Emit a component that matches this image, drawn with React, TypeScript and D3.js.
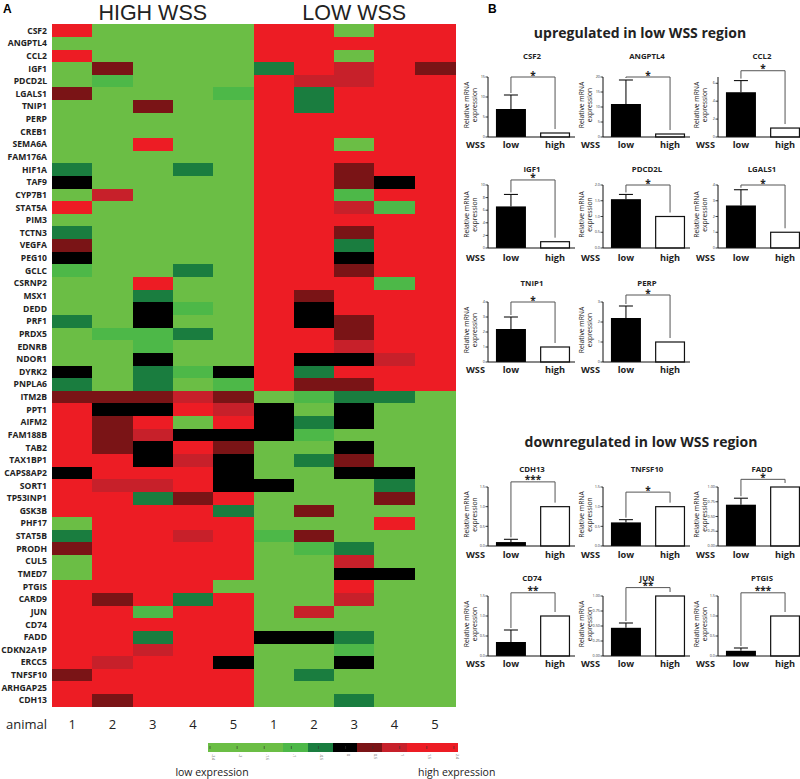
import React from 'react';
import * as d3 from 'd3';

// ---------------- Heatmap data ----------------
const genes = [
  'CSF2', 'ANGPTL4', 'CCL2', 'IGF1', 'PDCD2L', 'LGALS1', 'TNIP1', 'PERP', 'CREB1', 'SEMA6A',
  'FAM176A', 'HIF1A', 'TAF9', 'CYP7B1', 'STAT5A', 'PIM3', 'TCTN3', 'VEGFA', 'PEG10', 'GCLC',
  'CSRNP2', 'MSX1', 'DEDD', 'PRF1', 'PRDX5', 'EDNRB', 'NDOR1', 'DYRK2', 'PNPLA6',
  'ITM2B', 'PPT1', 'AIFM2', 'FAM188B', 'TAB2', 'TAX1BP1', 'CAPS8AP2', 'SORT1', 'TP53INP1', 'GSK3B',
  'PHF17', 'STAT5B', 'PRODH', 'CUL5', 'TMED7', 'PTGIS', 'CARD9', 'JUN', 'CD74', 'FADD',
  'CDKN2A1P', 'ERCC5', 'TNFSF10', 'ARHGAP25', 'CDH13',
];
const animals = ['1', '2', '3', '4', '5', '1', '2', '3', '4', '5'];
const groups = ['HIGH WSS', 'LOW WSS'];

// columns: HIGH WSS animals 1-5, LOW WSS animals 1-5
const expression: number[][] = [
  [2, -2, -2, -2, -2, 2, 2, -2, 2, 2], // CSF2
  [-2, -2, -2, -2, -2, 2, 2, 2, 2, 2], // ANGPTL4
  [2, -2, -2, -2, -2, 2, 2, -2, 2, 2], // CCL2
  [-2, 0.4, -2, -2, -2, -0.4, 2, 1, 2, 0.4], // IGF1
  [-2, -1, -2, -2, -2, 2, 1, 1, 2, 2], // PDCD2L
  [0.4, -2, -2, -2, -1, 2, -0.4, 2, 2, 2], // LGALS1
  [-2, -2, 0.4, -2, -2, 2, -0.4, 2, 2, 2], // TNIP1
  [-2, -2, -2, -2, -2, 2, 2, 2, 2, 2], // PERP
  [-2, -2, -2, -2, -2, 2, 2, 2, 2, 2], // CREB1
  [-2, -2, 2, -2, -2, 2, 2, -2, 2, 2], // SEMA6A
  [-2, -2, -2, -2, -2, 2, 2, 2, 2, 2], // FAM176A
  [-0.4, -2, -2, -0.4, -2, 2, 2, 0.4, 2, 2], // HIF1A
  [0, -2, -2, -2, -2, 2, 2, 0.4, 0, 2], // TAF9
  [-2, 1, -2, -2, -2, 2, 2, -1, 2, 2], // CYP7B1
  [2, -2, -2, -2, -2, 2, 2, 1, -1, 2], // STAT5A
  [-2, -2, -2, -2, -2, 2, 2, 2, 2, 2], // PIM3
  [-0.4, -2, -2, -2, -2, 2, 2, 0.4, 2, 2], // TCTN3
  [0.4, -2, -2, -2, -2, 2, 2, -0.4, 2, 2], // VEGFA
  [0, -2, -2, -2, -2, 2, 2, 0, 2, 2], // PEG10
  [-1, -2, -2, -0.4, -2, 2, 2, 0.4, 2, 2], // GCLC
  [-2, -2, 2, -2, -2, 2, 2, 2, -1, 2], // CSRNP2
  [-2, -2, -0.4, -2, -2, 2, 0.4, 2, 2, 2], // MSX1
  [-2, -2, 0, -1, -2, 2, 0, 2, 2, 2], // DEDD
  [-0.4, -2, 0, -2, -2, 2, 0, 0.4, 2, 2], // PRF1
  [-2, -1, -1, -0.4, -2, 2, 2, 0.4, 2, 2], // PRDX5
  [-2, -2, -1, -2, -2, 2, 2, 1, 2, 2], // EDNRB
  [-2, -2, 0, -2, -2, 2, 0, 0, 1, 2], // NDOR1
  [0, -2, -0.4, -1, 0, 2, -0.4, 2, 2, 2], // DYRK2
  [-0.4, -2, -0.4, -2, -1, 2, 0.4, 0.4, 2, 2], // PNPLA6
  [0.4, 0.4, 0.4, 1, 0.4, -2, -1, -0.4, -0.4, -2], // ITM2B
  [2, 0, 0, 2, 1, 0, -2, 0, -2, -2], // PPT1
  [2, 0.4, 2, -2, 2, 0, -0.4, 0, -2, -2], // AIFM2
  [2, 0.4, 1, 0, 0, 0, -1, -2, -2, -2], // FAM188B
  [2, 0.4, 0, 2, 0.4, -2, -2, 0, -2, -2], // TAB2
  [2, 2, 0, 1, 0, -2, -0.4, 0.4, -2, -2], // TAX1BP1
  [0, 2, 2, 2, 0, -2, -2, 0, 0, -2], // CAPS8AP2
  [2, 1, 1, 2, 0, 0, -2, -2, -0.4, -2], // SORT1
  [2, 2, -0.4, 0.4, 2, -2, -2, -2, 0.4, -2], // TP53INP1
  [2, 2, 2, 2, -0.4, -2, 0.4, -2, -2, -2], // GSK3B
  [-2, 2, 2, 2, 2, -2, -2, -2, 2, -2], // PHF17
  [-0.4, 2, 2, 1, 2, -1, 0.4, -2, -2, -2], // STAT5B
  [0.4, 2, 2, 2, 2, -2, -1, -0.4, -2, -2], // PRODH
  [-2, 2, 2, 2, 2, -2, -2, 1, -2, -2], // CUL5
  [-2, 2, 2, 2, 2, -2, -2, 0, 0, -2], // TMED7
  [2, 2, 2, 2, -2, -2, -2, 2, -2, -2], // PTGIS
  [2, 0.4, 2, -0.4, 2, -2, -2, 1, -2, -2], // CARD9
  [2, 2, -1, 2, 2, -2, 1, -2, -2, -2], // JUN
  [2, 2, 2, 2, 2, -2, -2, -2, -2, -2], // CD74
  [2, 2, -0.4, 2, 2, 0, 0, -0.4, -2, -2], // FADD
  [2, 2, 1, 2, 2, -2, -2, -1, -2, -2], // CDKN2A1P
  [2, 1, 2, 2, 0, -2, -2, 0, -2, -2], // ERCC5
  [0.4, 2, 2, 2, 2, -2, -0.4, -2, -2, -2], // TNFSF10
  [2, 2, 2, 2, 2, -2, -2, -2, -2, -2], // ARHGAP25
  [2, 0.4, 2, 2, 2, -2, -2, -0.4, -2, -2], // CDH13
];

const legendValues = [-2.4, -2, -1.6, -1, -0.4, 0, 0.4, 1, 1.6, 2.4];
const legendTickLabels = ['-2.4', '-2', '-1.6', '-1', '-0.5', '0', '0.5', '1', '1.5', '2.4'];

// ---------------- Bar chart data ----------------
const barGenes = ['CSF2', 'ANGPTL4', 'CCL2', 'IGF1', 'PDCD2L', 'LGALS1', 'TNIP1', 'PERP',
  'CDH13', 'TNFSF10', 'FADD', 'CD74', 'JUN', 'PTGIS'];
const barCategories = ['low', 'high'];
const lowMean = [7, 11, 5, 6.6, 1.55, 2.7, 2.2, 2.2, 0.1, 0.6, 0.7, 0.35, 0.47, 0.13];
const lowUpper = [10.5, 19, 6.3, 8.5, 1.7, 3.7, 3.0, 2.8, 0.17, 0.67, 0.81, 0.65, 0.55, 0.2];
const highMean = [1, 1, 1, 1, 1, 1, 1, 1, 1, 1, 1, 1, 1, 1];
const axisMax = [15, 20, 6.7, 10, 2, 4, 4, 3, 1.5, 1.5, 1, 1.5, 1, 1.5];
const tickStep = [5, 5, 2, 2, 0.5, 1, 1, 1, 0.5, 0.5, 0.25, 0.5, 0.25, 0.5];
const tickDecimals = [0, 0, 0, 0, 1, 0, 0, 0, 1, 1, 2, 1, 2, 1];
const significance = ['*', '*', '*', '*', '*', '*', '*', '*', '***', '*', '*', '**', '**', '***'];
const bracketLevel = [15, 20, 7.4, 10.8, 2, 4, 4, 3.35, 1.63, 1.37, 1.13, 1.58, 1.14, 1.58];
const sectionTitles = ['upregulated in low WSS region', 'downregulated in low WSS region'];

// ---------------- Styling ----------------
const FONT = "'Open Sans', 'Liberation Sans', sans-serif";
const C = {
  G: '#6BBE45', g: '#4DB848', D: '#1A7D3F', K: '#000000', M: '#7A1416', r: '#C7202A', R: '#ED1C24',
};
const colorScale = d3.scaleThreshold<number, string>()
  .domain([-1.5, -0.7, -0.2, 0.2, 0.7, 1.5])
  .range([C.G, C.g, C.D, C.K, C.M, C.r, C.R]);

const HM = { left: 52, right: 455, top: 24.3, bottom: 706.7 };

function Heatmap() {
  const x = d3.scaleBand<number>().domain(d3.range(animals.length)).range([HM.left, HM.right]);
  const y = d3.scaleBand<string>().domain(genes).range([HM.top, HM.bottom]);
  return (
    <g>
      <text x={3} y={13} fontFamily="'Liberation Sans', Arial, sans-serif" fontWeight="bold" fontSize={12}>A</text>
      {groups.map((gname, i) => (
        <text key={gname} x={(x(i * 5)! + x(i * 5 + 4)! + x.bandwidth()) / 2} y={19.5}
          textAnchor="middle" fontFamily="'Liberation Sans', Arial, sans-serif" fontSize={21.5} fill="#222">{gname}</text>
      ))}
      <g shapeRendering="crispEdges">
        {expression.map((row, ri) => row.map((v, ci) => (
          <rect key={`${ri}-${ci}`} x={x(ci)} y={y(genes[ri])}
            width={x.bandwidth() + 0.6} height={y.bandwidth() + 0.6} fill={colorScale(v)} />
        )))}
      </g>
      {genes.map(gn => (
        <text key={gn} x={47} y={y(gn)! + y.bandwidth() / 2 + 3} textAnchor="end"
          fontFamily={FONT} fontWeight="bold" fontSize={8.6} fill="#222">{gn}</text>
      ))}
      <text x={6} y={729} fontFamily={FONT} fontSize={13} fill="#222">animal</text>
      {animals.map((a, i) => (
        <text key={i} x={x(i)! + x.bandwidth() / 2} y={729} textAnchor="middle"
          fontFamily={FONT} fontSize={13} fill="#222">{a}</text>
      ))}
    </g>
  );
}

function Legend() {
  const x0 = 208, x1 = 457, y0 = 743, h = 9;
  const seg = d3.scaleBand<number>().domain(d3.range(legendValues.length)).range([x0, x1]);
  const tk = d3.scalePoint<string>().domain(legendTickLabels).range([x0 + 2, x1 - 3]);
  return (
    <g>
      <g shapeRendering="crispEdges">
        {legendValues.map((v, i) => (
          <rect key={i} x={seg(i)} y={y0} width={seg.bandwidth() + 0.5} height={h} fill={colorScale(v)} />
        ))}
      </g>
      {legendTickLabels.map(t => (
        <g key={t}>
          <line x1={tk(t)} x2={tk(t)} y1={y0 + 3} y2={y0 + 6} stroke="#333" strokeWidth={0.6} />
          <text transform={`translate(${tk(t)! + 1.5},${y0 + h + 2}) rotate(90)`} fontFamily={FONT}
            fontSize={3.5} fill="#555">{t}</text>
        </g>
      ))}
      <text x={212} y={776} textAnchor="middle" fontFamily={FONT} fontSize={10.5} fill="#222">low expression</text>
      <text x={418} y={776} fontFamily={FONT} fontSize={10.5} fill="#222">high expression</text>
    </g>
  );
}

const colX = [488, 603, 718];
const rowTop = [77, 185, 302, 487, 596];
const rowBottom = [137, 248, 362, 546, 656];
const rowTitleY = [59, 172, 286, 472, 581];
const rowLabelY = [148, 261, 373, 558, 667];

function BarPanel({ i }: { i: number }) {
  const row = i < 8 ? Math.floor(i / 3) : 3 + Math.floor((i - 8) / 3);
  const col = i < 8 ? i % 3 : (i - 8) % 3;
  const ax = colX[col];
  const top = rowTop[row], bottom = rowBottom[row];
  const y = d3.scaleLinear().domain([0, axisMax[i]]).range([bottom, top]);
  const x = d3.scaleBand<string>().domain(barCategories).range([ax, ax + 90]).paddingInner(0.32).paddingOuter(0.18);
  const bw = x.bandwidth();
  const ticks = d3.range(0, axisMax[i] + 1e-9, tickStep[i]);
  const fmt = d3.format(`.${tickDecimals[i]}f`);
  const cl = x('low')! + bw / 2;
  const ch = x('high')! + bw / 2;
  const yb = y(bracketLevel[i]);
  const mid = (top + bottom) / 2 - 2;
  return (
    <g>
      <text x={ax + 44} y={rowTitleY[row]} textAnchor="middle" fontFamily={FONT} fontWeight="bold"
        fontSize={7.8} fill="#222">{barGenes[i]}</text>
      {/* bars */}
      <rect x={x('low')} y={y(lowMean[i])} width={bw} height={bottom - y(lowMean[i])} fill="#000" />
      <rect x={x('high')! + 0.6} y={y(highMean[i])} width={bw - 1.2} height={bottom - y(highMean[i])}
        fill="#fff" stroke="#111" strokeWidth={1.2} />
      {/* error bar */}
      <line x1={cl} x2={cl} y1={y(lowMean[i])} y2={y(lowUpper[i])} stroke="#111" strokeWidth={1.1} />
      <line x1={cl - 7} x2={cl + 7} y1={y(lowUpper[i])} y2={y(lowUpper[i])} stroke="#111" strokeWidth={1.1} />
      {/* axes */}
      <line x1={ax} x2={ax} y1={top} y2={bottom} stroke="#111" strokeWidth={1} />
      <line x1={ax} x2={ax + 87} y1={bottom} y2={bottom} stroke="#111" strokeWidth={1} />
      {ticks.map(t => (
        <g key={t}>
          <line x1={ax - 2.5} x2={ax} y1={y(t)} y2={y(t)} stroke="#111" strokeWidth={0.8} />
          <text x={ax - 3} y={y(t) + 1.2} textAnchor="end" fontFamily={FONT} fontSize={3.8} fill="#333">{fmt(t)}</text>
        </g>
      ))}
      {/* y label */}
      <text transform={`translate(${ax - 19},${mid}) rotate(-90)`} textAnchor="middle" fontFamily={FONT}
        fontSize={6.8} fill="#222">Relative mRNA</text>
      <text transform={`translate(${ax - 11},${mid}) rotate(-90)`} textAnchor="middle" fontFamily={FONT}
        fontSize={6.8} fill="#222">expression</text>
      {/* significance bracket */}
      <path d={`M${cl},${y(lowUpper[i]) - 2}V${yb}H${ch}V${y(highMean[i]) - 4}`} fill="none"
        stroke="#555" strokeWidth={1} />
      <text x={(cl + ch) / 2} y={yb + 1.5} textAnchor="middle" fontFamily={FONT} fontWeight="bold"
        fontSize={10} fill="#222">{significance[i]}</text>
      {/* category labels */}
      <text x={ax - 3} y={rowLabelY[row]} textAnchor="end" fontFamily={FONT} fontWeight="bold"
        fontSize={9.2} fill="#222">WSS</text>
      {barCategories.map(c => (
        <text key={c} x={x(c)! + bw / 2} y={rowLabelY[row]} textAnchor="middle" fontFamily={FONT}
          fontWeight="bold" fontSize={9.2} fill="#222">{c}</text>
      ))}
    </g>
  );
}

export default function App() {
  return (
    <svg width={800} height={779} viewBox="0 0 800 779"
      style={{ position: 'absolute', left: 0, top: 0, background: '#fff' }}>
      <rect width={800} height={779} fill="#fff" />
      <Heatmap />
      <Legend />
      <text x={488} y={13} fontFamily="'Liberation Sans', Arial, sans-serif" fontWeight="bold" fontSize={12}>B</text>
      <text x={640} y={38} textAnchor="middle" fontFamily={FONT} fontWeight="bold" fontSize={14} fill="#222">{sectionTitles[0]}</text>
      <text x={641} y={447} textAnchor="middle" fontFamily={FONT} fontWeight="bold" fontSize={14} fill="#222">{sectionTitles[1]}</text>
      {barGenes.map((_, i) => <BarPanel key={i} i={i} />)}
    </svg>
  );
}
